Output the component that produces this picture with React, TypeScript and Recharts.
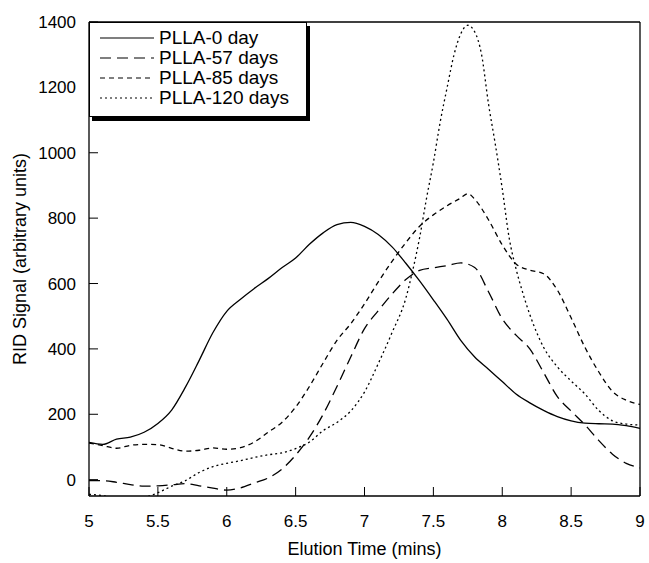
import { Legend, Line, LineChart, XAxis, YAxis } from "recharts";

const timeTicks = [5, 5.5, 6, 6.5, 7, 7.5, 8, 8.5, 9];
const signalTicks = [0, 200, 400, 600, 800, 1000, 1200, 1400];

// elution time grid (mins) shared by the 0 and 57 day traces
const timeGrid = [
  5.0, 5.1, 5.2, 5.3, 5.4, 5.5, 5.6, 5.7, 5.8, 5.9, 6.0, 6.1, 6.2, 6.3, 6.4, 6.5, 6.6, 6.7, 6.8, 6.9, 7.0,
  7.1, 7.2, 7.3, 7.4, 7.5, 7.6, 7.7, 7.8, 7.9, 8.0, 8.1, 8.2, 8.3, 8.4, 8.5, 8.6, 8.7, 8.8, 8.9, 9.0,
];

const day0 = [
  114, 108, 124, 130, 145, 172, 213, 283, 365, 450, 515, 552, 585, 615, 648, 678, 720, 755, 780, 787, 775,
  750, 712, 662, 608, 550, 490, 425, 375, 338, 300, 262, 235, 212, 193, 180, 173, 171, 170, 165, 157,
];

const day57 = [
  -3, -3, -8, -15, -20, -19, -16, -12, -19, -26, -32, -25, -10, 5, 32, 75, 130, 200, 285, 375, 462,
  517, 568, 612, 640, 648, 655, 663, 649, 575, 492, 442, 400, 328, 254, 210, 168, 120, 78, 50, 36,
];

const time85 = [
  5.0, 5.1, 5.2, 5.3, 5.4, 5.5, 5.6, 5.7, 5.8, 5.9, 6.0, 6.1, 6.2, 6.3, 6.4, 6.5, 6.6, 6.7, 6.8, 6.9, 7.0,
  7.1, 7.2, 7.3, 7.4, 7.5, 7.6, 7.7, 7.75, 7.8, 7.9, 8.0, 8.1, 8.2, 8.3, 8.4, 8.5, 8.6, 8.7, 8.8, 8.9, 9.0,
];
const day85 = [
  112, 104, 96, 105, 108, 107, 96, 87, 90, 97, 93, 98, 115, 145, 175, 222, 285, 357, 426, 477, 538,
  605, 668, 725, 775, 810, 838, 862, 875, 858, 795, 718, 660, 641, 630, 580, 495, 405, 330, 270, 243, 230,
];

const time120 = [
  5.0, 5.1, 5.2, 5.3, 5.4, 5.5, 5.6, 5.7, 5.8, 5.9, 6.0, 6.1, 6.2, 6.3, 6.4, 6.5, 6.6, 6.7, 6.8, 6.9, 7.0,
  7.1, 7.2, 7.3, 7.35, 7.4, 7.45, 7.5, 7.55, 7.6, 7.65, 7.7, 7.75, 7.8, 7.85, 7.9, 7.95, 8.0, 8.05, 8.1,
  8.15, 8.2, 8.3, 8.4, 8.5, 8.6, 8.7, 8.8, 8.9, 9.0,
];
const day120 = [
  -45, -49, -58, -62, -55, -40, -20, -3, 22, 40, 50, 58, 68, 76, 82, 95, 115, 150, 175, 210, 268,
  355, 450, 555, 640, 740, 860, 970, 1095, 1200, 1300, 1365, 1390, 1370, 1300, 1150, 1025, 890, 740, 645,
  570, 505, 405, 345, 302, 262, 212, 180, 170, 167,
];

const toPoints = (t: number[], s: number[]) => t.map((x, i) => ({ t: x, signal: s[i] }));

const series = [
  { name: "PLLA-0 day", data: toPoints(timeGrid, day0), dash: undefined },
  { name: "PLLA-57 days", data: toPoints(timeGrid, day57), dash: "11 6" },
  { name: "PLLA-85 days", data: toPoints(time85, day85), dash: "5 4" },
  { name: "PLLA-120 days", data: toPoints(time120, day120), dash: "2 3" },
];

const font = "'Liberation Sans', Arial, sans-serif";
const tickStyle = { fontSize: 17, fill: "#000", fontFamily: font };

function LegendBox() {
  return (
    <div
      style={{
        background: "#fff",
        border: "1.5px solid #000",
        boxShadow: "3px 4px 0 #000",
        padding: "5px 10px 8px 10px",
        width: 196,
        fontFamily: font,
        fontSize: 19,
        color: "#000",
      }}
    >
      {series.map((s) => (
        <div key={s.name} style={{ display: "flex", alignItems: "center", height: 20 }}>
          <svg width={54} height={4}>
            <line x1={0} y1={2} x2={54} y2={2} stroke="#000" strokeWidth={1.2} strokeDasharray={s.dash} />
          </svg>
          <span style={{ marginLeft: 5, whiteSpace: "nowrap" }}>{s.name}</span>
        </div>
      ))}
    </div>
  );
}

export default function App() {
  return (
    <div style={{ position: "absolute", left: 0, top: 0 }}>
      <LineChart width={649} height={563} margin={{ top: 21, right: 8, bottom: 0, left: 0 }}>
        <XAxis
          type="number"
          dataKey="t"
          domain={[5, 9]}
          ticks={timeTicks}
          allowDataOverflow
          height={67}
          tick={tickStyle}
          tickSize={-9}
          tickMargin={28}
          axisLine={{ stroke: "#000", strokeWidth: 1.3 }}
          tickLine={{ stroke: "#000" }}
          label={{
            value: "Elution Time (mins)",
            position: "insideBottom",
            offset: 8,
            style: { fontSize: 18, fill: "#000", fontFamily: font },
          }}
        />
        <XAxis
          xAxisId="top"
          orientation="top"
          type="number"
          dataKey="t"
          domain={[5, 9]}
          ticks={timeTicks}
          allowDataOverflow
          height={1}
          tick={false}
          tickSize={-9}
          axisLine={{ stroke: "#000", strokeWidth: 1.3 }}
          tickLine={{ stroke: "#000" }}
        />
        <YAxis
          type="number"
          domain={[-50, 1400]}
          ticks={signalTicks}
          allowDataOverflow
          width={89}
          tick={tickStyle}
          tickSize={-9}
          tickMargin={22}
          axisLine={{ stroke: "#000", strokeWidth: 1.3 }}
          tickLine={{ stroke: "#000" }}
          label={{
            value: "RID Signal (arbitrary units)",
            angle: -90,
            position: "insideLeft",
            offset: 20,
            style: { textAnchor: "middle", fontSize: 18, fill: "#000", fontFamily: font },
          }}
        />
        <YAxis
          yAxisId="right"
          orientation="right"
          type="number"
          domain={[-50, 1400]}
          ticks={signalTicks}
          allowDataOverflow
          width={1}
          tick={false}
          tickSize={-9}
          axisLine={{ stroke: "#000", strokeWidth: 1.3 }}
          tickLine={{ stroke: "#000" }}
        />
        <Legend
          layout="vertical"
          align="center"
          verticalAlign="middle"
          content={() => <LegendBox />}
          wrapperStyle={{ left: 89, top: 22, width: "auto" }}
        />
        {series.map((s) => (
          <Line
            key={s.name}
            data={s.data}
            dataKey="signal"
            name={s.name}
            type="monotone"
            stroke="#000"
            strokeWidth={1.3}
            strokeDasharray={s.dash}
            dot={false}
            activeDot={false}
            isAnimationActive={false}
          />
        ))}
      </LineChart>
    </div>
  );
}
